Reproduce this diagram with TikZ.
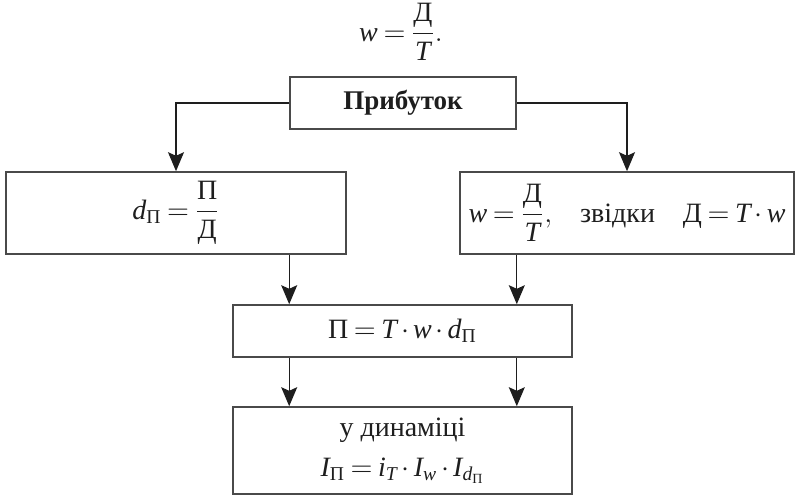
\documentclass[tikz,border=0pt]{standalone}
\usepackage{amsmath}
\usepackage{fontspec}
\setmainfont{Liberation Serif}
\usetikzlibrary{arrows.meta,calc,positioning}
\definecolor{pfInk}{HTML}{1E1E1E}
\definecolor{pfLine}{HTML}{4A4A4A}
\newcommand{\itv}[1]{\text{\itshape #1}}
\newcommand{\cyr}[1]{\text{#1}}
\thickmuskip=3.5mu
\medmuskip=2.5mu
\tikzset{
 scheme/.style={font=\fontsize{14}{17}\selectfont,text=pfInk,line join=miter},
 box/.style={rectangle,draw=pfLine,line width=.8pt,inner sep=2pt,align=center},
 link/.style={draw=pfInk,line width=.6pt,-{Stealth[length=9.5pt,width=8pt,inset=1.8pt]}}
}
\begin{document}
\begin{tikzpicture}[scheme,x=.5pt,y=-.5pt]
 \useasboundingbox (0,0) rectangle (795,496);
 % formula above the scheme
 \node (top) at (401,32) {$\itv{w}=\dfrac{\cyr{Д}}{\itv{T}}.$};
 \node[box,minimum width=113pt,minimum height=26pt,font=\fontsize{13.5}{17}\selectfont\bfseries] (prib) at (403,103) {Прибуток};
 \node[box,minimum width=170pt,minimum height=41pt] (left) at (176,213)
   {$\itv{d}_{\cyr{П}}=\dfrac{\cyr{П}}{\cyr{Д}}$};
 \node[box,minimum width=167pt,minimum height=41pt] (right) at (627,213)
   {$\itv{w}=\dfrac{\cyr{Д}}{\itv{T}},$\quad звідки\quad $\cyr{Д}=\itv{T}\cdot\itv{w}$};
 \node[box,minimum width=169.5pt,minimum height=26pt] (mid) at (402.5,331)
   {$\cyr{П}=\itv{T}\cdot\itv{w}\cdot\itv{d}_{\cyr{П}}$};
 \node[box,minimum width=169.5pt,minimum height=43.5pt] (bot) at (402.5,450.5)
   {у динаміці\\[3pt]$\itv{I}_{\cyr{П}}=\itv{i}_{\itv{T}}\cdot\itv{I}_{\itv{w}}\cdot\itv{I}_{\itv{d}_{\cyr{П}}}$};
 % connectors
 \draw[link] (prib.west) -| (left.north);
 \draw[link] (prib.east) -| (right.north);
 \draw[link] (prib.west |- left.south) -- (prib.west |- mid.north);
 \draw[link] (prib.east |- right.south) -- (prib.east |- mid.north);
 \draw[link] (prib.west |- mid.south) -- (prib.west |- bot.north);
 \draw[link] (prib.east |- mid.south) -- (prib.east |- bot.north);
\end{tikzpicture}
\end{document}
